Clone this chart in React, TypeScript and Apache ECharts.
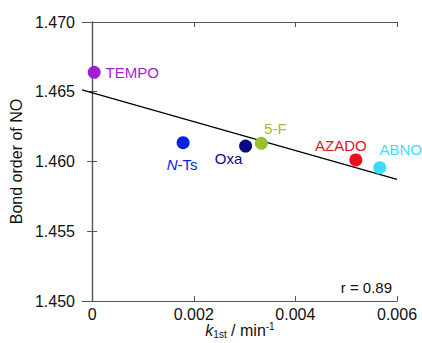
import React, { useEffect, useRef } from "react";
import * as echarts from "echarts";

const names = ["TEMPO", "N-Ts", "Oxa", "5-F", "AZADO", "ABNO"];
const kValues = [0.00004, 0.00179, 0.00302, 0.00333, 0.00519, 0.00566];
const bondOrders = [1.46639, 1.46135, 1.46111, 1.4613, 1.46011, 1.45956];
const colors = ["#a01fd6", "#0a22e0", "#0a0a80", "#9bbf2e", "#e8101a", "#3ddcff"];
const labelOffsets = [[38, 0], [-1, 22], [-17, 12], [14, -15], [-15, -14], [21, -18]];
const fitLine = [[-0.0002, 1.46513], [0.006, 1.45872]];
const xTicks = [0, 0.002, 0.004, 0.006];
const correlation = "r = 0.89";

const FONT = "Liberation Sans, Arial, sans-serif";

export default function App() {
  const ref = useRef<HTMLDivElement>(null);
  useEffect(() => {
    const chart = echarts.init(ref.current!, null, { renderer: "svg" });
    const axisLine = { show: true, lineStyle: { color: "#555", width: 1.2 } };
    const tick = { show: true, inside: true, length: 5, lineStyle: { color: "#555" } };
    chart.setOption({
      animation: false,
      grid: { left: 82, top: 22, right: 25, bottom: 42, outerBoundsMode: "none", containLabel: false },
      xAxis: [
        {
          type: "value",
          min: -0.0002,
          max: 0.006,
          axisLine,
          axisTick: { ...tick, customValues: xTicks },
          splitLine: { show: false },
          axisLabel: {
            customValues: xTicks,
            fontFamily: FONT,
            fontSize: 16,
            color: "#111",
            margin: 5,
            formatter: (v: number) => (v === 0 ? "0" : v.toFixed(3)),
          },
        },
        {
          type: "value",
          position: "top",
          min: -0.0002,
          max: 0.006,
          axisLine,
          axisTick: { ...tick, customValues: xTicks },
          axisLabel: { show: false },
          splitLine: { show: false },
        },
      ],
      yAxis: [
        {
          type: "value",
          min: 1.45,
          max: 1.47,
          interval: 0.005,
          axisLine,
          axisTick: tick,
          splitLine: { show: false },
          axisLabel: {
            fontFamily: FONT,
            fontSize: 16,
            color: "#111",
            margin: 7,
            formatter: (v: number) => v.toFixed(3),
          },
          name: "Bond order of NO",
          nameLocation: "middle",
          nameGap: 53,
          nameTextStyle: { fontFamily: FONT, fontSize: 16, color: "#111" },
        },
        {
          type: "value",
          position: "right",
          min: 1.45,
          max: 1.47,
          interval: 0.005,
          axisLine,
          axisTick: tick,
          axisLabel: { show: false },
          splitLine: { show: false },
        },
      ],
      series: [
        {
          type: "line",
          data: fitLine,
          symbol: "none",
          lineStyle: { color: "#000", width: 1.3 },
          z: 1,
        },
        {
          type: "scatter",
          symbolSize: 13,
          z: 3,
          itemStyle: { opacity: 1 },
          data: names.map((n, i) => ({
            value: [kValues[i], bondOrders[i]],
            itemStyle: { color: colors[i], opacity: 1 },
            label: {
              show: true,
              position: "inside",
              offset: labelOffsets[i],
              formatter: n === "N-Ts" ? "{i|N}{r|-Ts}" : n,
              color: colors[i],
              fontFamily: FONT,
              fontSize: 15,
              rich: {
                i: { fontFamily: FONT, fontSize: 15, fontStyle: "italic", color: colors[i] },
                r: { fontFamily: FONT, fontSize: 15, color: colors[i] },
              },
            },
          })),
        },
      ],
      graphic: [
        {
          type: "text",
          right: 30,
          top: 280,
          style: { text: correlation, fontFamily: FONT, fontSize: 15, fill: "#111" },
        },
        {
          type: "text",
          x: 240,
          y: 330,
          style: {
            text: "{k|k}{sub|1st}{n| / min}{sup|-1}",
            align: "center",
            verticalAlign: "middle",
            fill: "#111",
            rich: {
              k: { fontFamily: FONT, fontSize: 16, lineHeight: 18, fontStyle: "italic", fill: "#111" },
              sub: { fontFamily: FONT, fontSize: 10, lineHeight: 8, verticalAlign: "bottom", fill: "#111" },
              n: { fontFamily: FONT, fontSize: 16, lineHeight: 18, fill: "#111" },
              sup: { fontFamily: FONT, fontSize: 10, lineHeight: 8, verticalAlign: "top", fill: "#111" },
            },
          },
        },
      ],
    });
    return () => chart.dispose();
  }, []);
  return <div ref={ref} style={{ width: 422, height: 343, position: "absolute", left: 0, top: 0 }} />;
}
